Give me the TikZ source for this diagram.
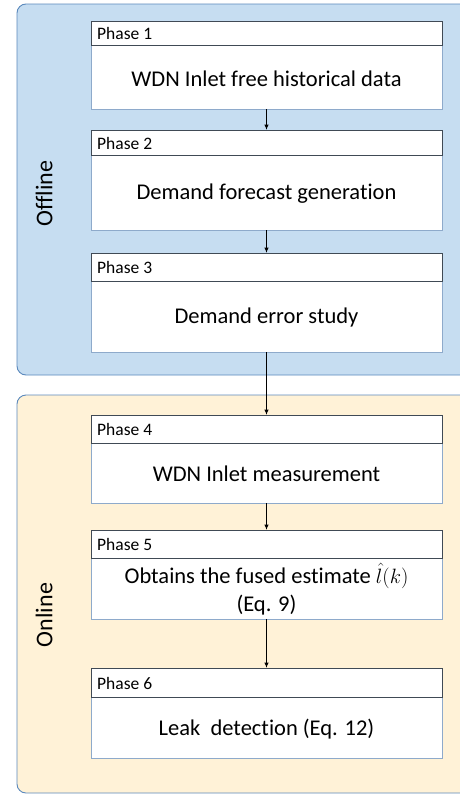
\documentclass[tikz,border=0pt]{standalone}
\usepackage{fontspec}
\setmainfont{Carlito}[Ligatures={NoCommon}]
\begin{document}
\begin{tikzpicture}[x=1pt,y=-1pt,
  panel/.style={rounded corners=9pt, draw=panelline, line width=0.9pt},
  header/.style={draw=headline, fill=white, line width=1pt},
  body/.style={draw=bodyline, fill=white, line width=1pt},
  phaselabel/.style={anchor=west, font=\fontsize{17.5}{20}\selectfont, inner sep=0pt},
  maintext/.style={align=center, font=\fontsize{22.5}{28}\selectfont, inner sep=0pt},
  flow/.style={-{Latex[length=5.5pt,width=4.5pt]}, line width=1.3pt, black},
  sidelabel/.style={rotate=90, font=\fontsize{24}{28}\selectfont, inner sep=0pt}]
\usetikzlibrary{arrows.meta}
\definecolor{offfill}{HTML}{C6DDF1}
\definecolor{onfill}{HTML}{FFF2D7}
\definecolor{panelline}{HTML}{5B89BD}
\definecolor{headline}{HTML}{404A55}
\definecolor{bodyline}{HTML}{8EAACB}
\clip (0,0) rectangle (460,795);
\fill[white] (0,0) rectangle (460,795);
% panels
\draw[panel, fill=offfill] (17,4) rectangle (480,375);
\draw[panel, fill=onfill] (17,395) rectangle (480,793);
\node[sidelabel] (offl) at (44,193.5) {Offline};
\node[sidelabel] (onl) at (44,615) {Online};
% phase boxes: body then header
\draw[body] (91,45) rectangle (442,109);
\draw[header] (91,21) rectangle (442,45);
\node[phaselabel] (h1) at (97,33.5) {Phase 1};
\node[maintext] (t1) at (266.5,79) {WDN Inlet free historical data};
\coordinate (b1t) at (266.5,21); \coordinate (b1b) at (266.5,109);

\draw[body] (91,155) rectangle (442,230);
\draw[header] (91,130) rectangle (442,155);
\node[phaselabel] (h2) at (97,143) {Phase 2};
\node[maintext] (t2) at (266.5,194) {Demand forecast generation};
\coordinate (b2t) at (266.5,130); \coordinate (b2b) at (266.5,230);

\draw[body] (91,281) rectangle (442,352);
\draw[header] (91,253) rectangle (442,281);
\node[phaselabel] (h3) at (97,267) {Phase 3};
\node[maintext] (t3) at (266.5,317) {Demand error study};
\coordinate (b3t) at (266.5,253); \coordinate (b3b) at (266.5,352);

\draw[body] (91,443) rectangle (442,503);
\draw[header] (91,415) rectangle (442,443);
\node[phaselabel] (h4) at (97,429) {Phase 4};
\node[maintext] (t4) at (266.5,474) {WDN Inlet measurement};
\coordinate (b4t) at (266.5,415); \coordinate (b4b) at (266.5,503);

\draw[body] (91,558) rectangle (442,619);
\draw[header] (91,530) rectangle (442,558);
\node[phaselabel] (h5) at (97,544) {Phase 5};
\node[maintext] (t5) at (266.5,589) {Obtains the fused estimate $\hat{l}(k)$\\(Eq. 9)};
\coordinate (b5t) at (266.5,530); \coordinate (b5b) at (266.5,619);

\draw[body] (91,697) rectangle (442,758);
\draw[header] (91,668) rectangle (442,697);
\node[phaselabel] (h6) at (97,683) {Phase 6};
\node[maintext] (t6) at (266.5,729) {Leak\ \ detection (Eq. 12)};
\coordinate (b6t) at (266.5,668); \coordinate (b6b) at (266.5,758);

\draw[flow] (b1b) -- (b2t);
\draw[flow] (b2b) -- (b3t);
\draw[flow] (b3b) -- (b4t);
\draw[flow] (b4b) -- (b5t);
\draw[flow] (b5b) -- (b6t);
\end{tikzpicture}
\end{document}
